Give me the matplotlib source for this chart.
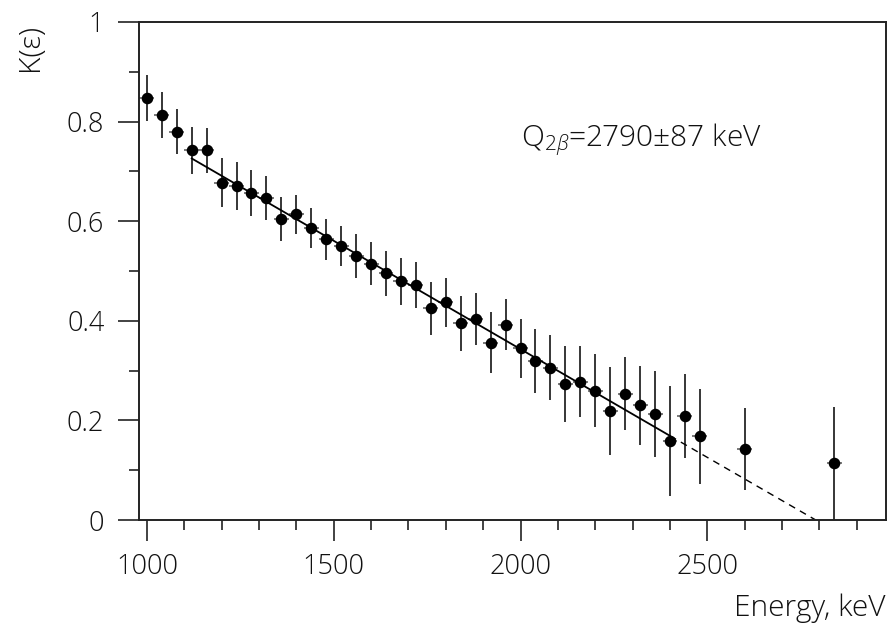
import matplotlib
matplotlib.use("Agg")
import matplotlib.pyplot as plt
from matplotlib.ticker import MultipleLocator, FixedLocator

# Measured points, K(eps) vs energy (keV)
energy = [1000, 1040, 1080, 1120, 1160, 1200, 1240, 1280, 1320, 1360,
          1400, 1440, 1480, 1520, 1560, 1600, 1640, 1680, 1720, 1760,
          1800, 1840, 1880, 1920, 1960, 2000, 2040, 2080, 2120, 2160,
          2200, 2240, 2280, 2320, 2360, 2400, 2440, 2480, 2600, 2840]
k_val = [0.848, 0.813, 0.780, 0.742, 0.742, 0.677, 0.671, 0.657, 0.647, 0.604,
         0.614, 0.586, 0.564, 0.551, 0.530, 0.515, 0.495, 0.479, 0.472, 0.425,
         0.437, 0.395, 0.404, 0.356, 0.392, 0.345, 0.319, 0.306, 0.273, 0.278,
         0.260, 0.219, 0.254, 0.230, 0.213, 0.159, 0.209, 0.168, 0.143, 0.114]
k_err = [0.046, 0.046, 0.046, 0.048, 0.045, 0.049, 0.048, 0.046, 0.044, 0.044,
         0.039, 0.040, 0.041, 0.040, 0.044, 0.044, 0.046, 0.048, 0.047, 0.053,
         0.049, 0.055, 0.052, 0.061, 0.051, 0.059, 0.064, 0.066, 0.076, 0.071,
         0.074, 0.088, 0.073, 0.080, 0.086, 0.111, 0.085, 0.096, 0.082, 0.113]
e_err = 20

# Linear fit (solid over fitted range, dashed extrapolation to Q)
fit_x = [1120, 2400]
fit_y = [0.726, 0.169]
extrap_x = [2400, 2790]
extrap_y = [0.169, 0.0]

font = ["Open Sans", "DejaVu Sans"]
txt_color = "#111111"
tick_size = 19.5
label_size = 21.5
fweight = "light"

plt.rcParams["mathtext.fontset"] = "custom"
plt.rcParams["mathtext.rm"] = "Open Sans:light"
plt.rcParams["mathtext.it"] = "Open Sans:italic:light"

fig = plt.figure(figsize=(8.9, 6.32), dpi=100)
ax = fig.add_axes([0.1562, 0.1772, 0.8393, 0.788])

ax.errorbar(energy, k_val, yerr=k_err, fmt="none", ecolor="black",
            elinewidth=1.1, capsize=0)
ax.errorbar(energy, k_val, xerr=e_err, fmt="none", ecolor="#555555",
            elinewidth=1.1, capsize=0)
ax.plot(energy, k_val, "o", color="black", markersize=7.3, zorder=3)

ax.plot(fit_x, fit_y, "-", color="black", linewidth=1.3)
ax.plot(extrap_x, extrap_y, "--", color="black", linewidth=1.0,
        dashes=(5, 4))

ax.set_xlim(979, 2978)
ax.set_ylim(0, 1)

for side in ["top", "right", "bottom", "left"]:
    ax.spines[side].set_linewidth(1.4)
    ax.spines[side].set_color("#222222")

ax.xaxis.set_major_locator(FixedLocator([1000, 1500, 2000, 2500]))
ax.xaxis.set_minor_locator(MultipleLocator(100))
ax.yaxis.set_major_locator(MultipleLocator(0.2))
ax.yaxis.set_minor_locator(MultipleLocator(0.1))
ax.tick_params(which="both", direction="out", top=False, right=False,
               color="#222222", width=1.2)
ax.tick_params(which="major", length=15, pad=9)
ax.tick_params(which="minor", length=7)
ax.tick_params(axis="y", which="major", pad=10)

ax.set_xticklabels(["1000", "1500", "2000", "2500"])
ax.set_yticks([0, 0.2, 0.4, 0.6, 0.8, 1.0])
ax.set_yticklabels(["0", "0.2", "0.4", "0.6", "0.8", "1"])
for lab in ax.get_xticklabels() + ax.get_yticklabels():
    lab.set_family(font)
    lab.set_fontweight(fweight)
    lab.set_fontsize(tick_size)
    lab.set_color(txt_color)

fig.text(0.9955, 0.025, "Energy, keV", ha="right", va="baseline",
         fontsize=label_size, family=font, fontweight=fweight,
         color=txt_color)
fig.text(0.034, 0.962, "K(ε)", ha="center", va="top",
         rotation=90, fontsize=label_size, family=font, fontweight=fweight,
         color=txt_color)
ax.text(2000, 0.751, "Q$_{2\\beta}$=2790±87 keV", ha="left",
        va="baseline", fontsize=label_size, family=font, fontweight=fweight,
        color=txt_color)

fig.savefig("out.png", dpi=100)
